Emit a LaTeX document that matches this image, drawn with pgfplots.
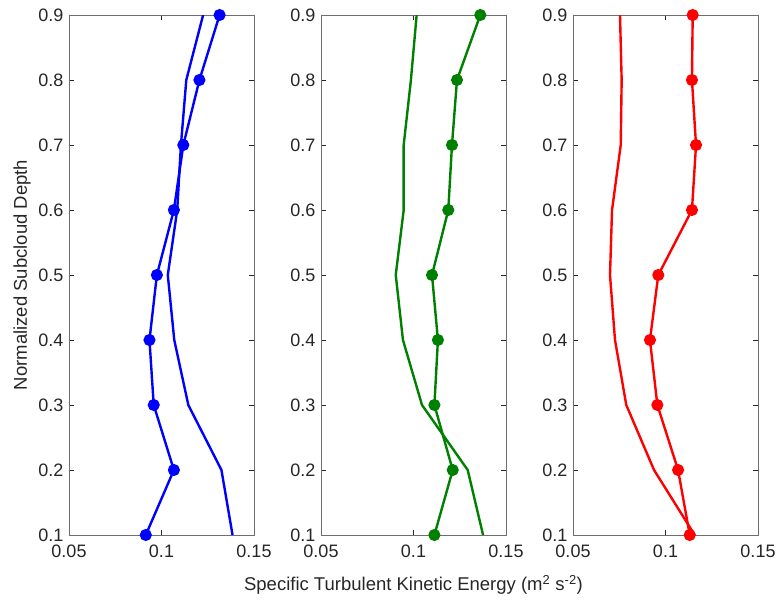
\documentclass[border=0pt]{standalone}
\usepackage{pgfplots}
\pgfplotsset{compat=1.18}
\usepackage{fontspec}
\setmainfont{Liberation Sans}
\definecolor{mblue}{RGB}{0,0,255}
\definecolor{mgreen}{RGB}{0,128,0}
\definecolor{mred}{RGB}{255,0,0}
\definecolor{txtgray}{RGB}{38,38,38}
\definecolor{axgray}{RGB}{110,110,110}

\pgfplotsset{
  panel/.style={
    scale only axis, width=185pt, height=520pt, anchor=south west,
    xmin=0.05, xmax=0.15, ymin=0.1, ymax=0.9,
    xtick={0.05,0.1,0.15}, xticklabels={0.05,0.1,0.15},
    ytick={0.1,0.2,0.3,0.4,0.5,0.6,0.7,0.8,0.9},
    yticklabels={0.1,0.2,0.3,0.4,0.5,0.6,0.7,0.8,0.9},
    tick align=inside, major tick length=5pt,
    axis line style={draw=axgray, line width=0.9pt},
    every tick/.style={draw=txtgray, line width=0.7pt},
    tick label style={font=\fontsize{18}{21}\selectfont, text=txtgray},
    label style={font=\fontsize{18.5}{22}\selectfont, text=txtgray},
    xticklabel style={yshift=-6pt},
    yticklabel style={xshift=-2pt},
  },
  sline/.style={line width=2.4pt, no marks},
  mline/.style={line width=2.4pt, mark=*, mark size=4.8pt},
}

\begin{document}
\begin{tikzpicture}
\useasboundingbox (0,0) rectangle (779pt,603pt);

\begin{axis}[panel, at={(69pt,68pt)}, ylabel={Normalized Subcloud Depth},
  ylabel style={at={(axis description cs:0,0.5)}, anchor=center, yshift=47pt}]
\addplot[sline, color=mblue] coordinates {
 (0.1384,0.1) (0.1324,0.2) (0.1145,0.3) (0.1069,0.4) (0.1034,0.5)
 (0.1085,0.6) (0.1105,0.7) (0.1134,0.8) (0.1225,0.9)};
\addplot[mline, color=mblue] coordinates {
 (0.0915,0.1) (0.1067,0.2) (0.0958,0.3) (0.0935,0.4) (0.0975,0.5)
 (0.1067,0.6) (0.1118,0.7) (0.1205,0.8) (0.1314,0.9)};
\end{axis}

\begin{axis}[panel, at={(321pt,68pt)},
  xlabel={Specific Turbulent Kinetic Energy (m\textsuperscript{2} s\textsuperscript{-2})},
  xlabel style={at={(axis description cs:0.5,0)}, anchor=center, yshift=-50pt}]
\addplot[sline, color=mgreen] coordinates {
 (0.1376,0.1) (0.1293,0.2) (0.1046,0.3) (0.0943,0.4) (0.0904,0.5)
 (0.0947,0.6) (0.0947,0.7) (0.0986,0.8) (0.1017,0.9)};
\addplot[mline, color=mgreen] coordinates {
 (0.1113,0.1) (0.1212,0.2) (0.1113,0.3) (0.1132,0.4) (0.1100,0.5)
 (0.1188,0.6) (0.1208,0.7) (0.1235,0.8) (0.1361,0.9)};
\end{axis}

\begin{axis}[panel, at={(573pt,68pt)}]
\addplot[sline, color=mred] coordinates {
 (0.1158,0.1) (0.0938,0.2) (0.0788,0.3) (0.0727,0.4) (0.0700,0.5)
 (0.0711,0.6) (0.0758,0.7) (0.0763,0.8) (0.0754,0.9)};
\addplot[mline, color=mred] coordinates {
 (0.1131,0.1) (0.1068,0.2) (0.0956,0.3) (0.0916,0.4) (0.0961,0.5)
 (0.1143,0.6) (0.1165,0.7) (0.1143,0.8) (0.1147,0.9)};
\end{axis}
\end{tikzpicture}
\end{document}
